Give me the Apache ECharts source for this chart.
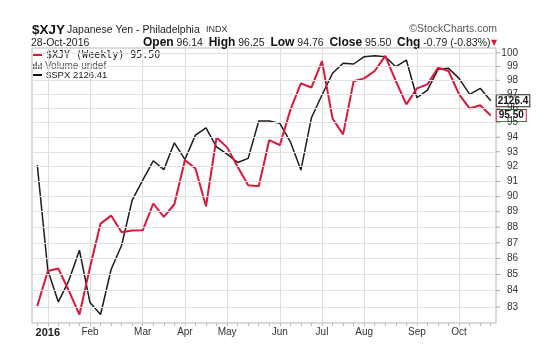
<!DOCTYPE html>
<html>
<head>
<meta charset="utf-8">
<title>$XJY Japanese Yen</title>
<script src="https://cdn.jsdelivr.net/npm/echarts@6/dist/echarts.min.js"></script>
<style>html,body{margin:0;padding:0;background:#fff;}</style>
</head>
<body>
<div id="main" style="width:550px;height:351px;"></div>
<script>
// weekly bars (week starting monday)
var weeks = ['2015-12-28','2016-01-04','2016-01-11','2016-01-18','2016-01-25',
  '2016-02-01','2016-02-08','2016-02-15','2016-02-22','2016-02-29',
  '2016-03-07','2016-03-14','2016-03-21','2016-03-28',
  '2016-04-04','2016-04-11','2016-04-18','2016-04-25',
  '2016-05-02','2016-05-09','2016-05-16','2016-05-23','2016-05-30',
  '2016-06-06','2016-06-13','2016-06-20','2016-06-27',
  '2016-07-04','2016-07-11','2016-07-18','2016-07-25',
  '2016-08-01','2016-08-08','2016-08-15','2016-08-22','2016-08-29',
  '2016-09-05','2016-09-12','2016-09-19','2016-09-26',
  '2016-10-03','2016-10-10','2016-10-17','2016-10-24'];

// $XJY weekly close
var xjy = [83.06, 85.22, 85.37, 83.98, 82.54,
  85.45, 88.23, 88.75, 87.67, 87.78,
  87.80, 89.54, 88.66, 89.49,
  92.43, 91.87, 89.36, 93.98,
  93.30, 91.98, 90.75, 90.68, 93.80,
  93.45, 95.90, 97.78, 97.49,
  99.39, 95.30, 94.19, 97.94,
  98.14, 98.67, 99.77, 97.95, 96.29,
  97.42, 97.71, 98.91, 98.67,
  97.00, 96.00, 96.23, 95.50];

// $SPX overlay
var spx = [2043.9, 1916.0, 1879.0, 1904.1, 1939.7,
  1878.2, 1864.5, 1916.8, 1945.6, 2000.4,
  2025.1, 2049.4, 2038.3, 2072.2,
  2051.1, 2082.0, 2091.4, 2067.1,
  2057.8, 2047.3, 2052.4, 2100.1, 2100.1,
  2097.1, 2073.5, 2037.7, 2104.4,
  2134.0, 2162.7, 2176.0, 2175.1,
  2184.9, 2186.2, 2184.9, 2171.5, 2180.4,
  2130.4, 2140.5, 2168.0, 2169.3,
  2156.0, 2134.9, 2142.8, 2126.41];

var yenTicks = [83, 84, 85, 86, 87, 88, 89, 90, 91, 92, 93, 94, 95, 96, 97, 98, 99, 100];
var monthNames = ['Jan','Feb','Mar','Apr','May','Jun','Jul','Aug','Sep','Oct','Nov','Dec'];

var RED = '#d9183b';
var FONT = 'Liberation Sans, Arial, sans-serif';

function firstWeekOfMonth(i) {
  return i > 0 && weeks[i].slice(5, 7) !== weeks[i - 1].slice(5, 7);
}

var myChart = echarts.init(document.getElementById('main'));

var option = {
  animation: false,
  backgroundColor: '#fff',
  grid: { left: 32, right: 54, top: 48, bottom: 28, show: true, borderColor: '#b5b5b5', borderWidth: 1 },
  xAxis: {
    type: 'category',
    data: weeks,
    boundaryGap: true,
    axisLine: { show: false },
    axisTick: { show: true, interval: 0, length: 3, alignWithLabel: true, lineStyle: { color: '#bbb' } },
    splitLine: {
      show: true,
      alignWithLabel: true,
      interval: function (i) { return firstWeekOfMonth(i); },
      lineStyle: { color: '#dedede', width: 1 }
    },
    axisLabel: {
      interval: function (i) { return firstWeekOfMonth(i); },
      margin: 4,
      fontSize: 10,
      fontFamily: FONT,
      color: '#333',
      formatter: function (v) {
        var m = +v.slice(5, 7);
        if (m === 1) return '{y|' + v.slice(0, 4) + '}';
        return monthNames[m - 1];
      },
      rich: { y: { fontSize: 11, fontWeight: 'bold', fontFamily: FONT, color: '#222' } }
    }
  },
  yAxis: [
    { type: 'log', logBase: 10, min: 82.03, max: 100.35, position: 'right',
      axisLine: { show: false }, axisTick: { show: false }, axisLabel: { show: false }, splitLine: { show: false } },
    { type: 'log', logBase: 10, min: 1854.8, max: 2196.6, show: false, splitLine: { show: false } }
  ],
  series: [
    {
      // gridlines + tick labels of the yen (log) scale
      type: 'line', data: [], yAxisIndex: 0, z: 1, silent: true,
      markLine: {
        silent: true, symbol: 'none', animation: false,
        lineStyle: { color: '#e2e2e2', width: 1, type: 'solid' },
        emphasis: { disabled: true },
        label: {
          position: 'end', distance: 0,
          formatter: function (p) { return '{t| }{n|' + p.value + '}'; },
          rich: {
            t: { width: 4, height: 1, lineHeight: 1, backgroundColor: '#aaa' },
            n: { width: 18, align: 'right', fontSize: 10, fontFamily: FONT, color: '#333' }
          }
        },
        data: yenTicks.map(function (v) { return { yAxis: v }; })
      }
    },
    {
      name: '$SPX', type: 'line', data: spx, yAxisIndex: 1, z: 2,
      showSymbol: false, symbol: 'none',
      lineStyle: { color: '#1c1c1c', width: 1.5 },
      endLabel: {
        show: true, distance: 6,
        formatter: function () { return spx[spx.length - 1].toFixed(1); },
        fontSize: 10, fontWeight: 'bold', fontFamily: FONT, color: '#111',
        backgroundColor: '#fff', borderColor: '#222', borderWidth: 1, padding: [1, 1, 0, 1]
      }
    },
    {
      name: '$XJY', type: 'line', data: xjy, yAxisIndex: 0, z: 3,
      showSymbol: false, symbol: 'none',
      lineStyle: { color: RED, width: 2 },
      endLabel: {
        show: true, distance: 6,
        formatter: function () { return xjy[xjy.length - 1].toFixed(2); },
        fontSize: 10, fontWeight: 'bold', fontFamily: FONT, color: '#111',
        backgroundColor: '#fff', borderColor: RED, borderWidth: 1, padding: [1, 2, 0, 2]
      }
    }
  ],
  graphic: [
    { type: 'text', x: 32, y: 30, style: { text: '$XJY', font: 'bold 13.5px ' + FONT, fill: '#111', verticalAlign: 'middle' } },
    { type: 'text', x: 67, y: 30, style: { text: 'Japanese Yen - Philadelphia', font: '10.5px ' + FONT, fill: '#222', verticalAlign: 'middle' } },
    { type: 'text', x: 206, y: 30, style: { text: 'INDX', font: '9px ' + FONT, fill: '#333', verticalAlign: 'middle' } },
    { type: 'text', x: 497, y: 29, style: { text: '\u00a9StockCharts.com', font: '10.5px ' + FONT, fill: '#555', align: 'right', verticalAlign: 'middle' } },
    { type: 'text', x: 31, y: 43, style: { text: '28-Oct-2016', font: '10.5px ' + FONT, fill: '#222', verticalAlign: 'middle' } },
    { type: 'text', x: 143, y: 43, style: {
        text: '{b|Open} 96.14  {b|High} 96.25  {b|Low} 94.76  {b|Close} 95.50  {b|Chg} -0.79 (-0.83%)',
        font: '10.5px ' + FONT, fill: '#222', verticalAlign: 'middle',
        rich: { b: { fontWeight: 'bold', fontSize: 12, fontFamily: FONT, fill: '#111' } } } },
    { type: 'text', x: 494, y: 43, style: { text: '\u25bc', font: '8px DejaVu Sans', fill: RED, align: 'center', verticalAlign: 'middle' } },
    // legend
    { type: 'line', shape: { x1: 33, y1: 55, x2: 42, y2: 55 }, style: { stroke: RED, lineWidth: 2 } },
    { type: 'text', x: 46, y: 55, style: { text: '$XJY (Weekly) 95.50', font: '10px DejaVu Sans Mono', fill: '#222', verticalAlign: 'middle' } },
    { type: 'rect', shape: { x: 33, y: 64, width: 1.5, height: 5 }, style: { fill: '#666' } },
    { type: 'rect', shape: { x: 35.5, y: 62, width: 1.5, height: 7 }, style: { fill: '#666' } },
    { type: 'rect', shape: { x: 38, y: 65, width: 1.5, height: 4 }, style: { fill: '#666' } },
    { type: 'rect', shape: { x: 40.5, y: 63, width: 1.5, height: 6 }, style: { fill: '#666' } },
    { type: 'text', x: 45, y: 66, style: { text: 'Volume undef', font: '10px ' + FONT, fill: '#555', verticalAlign: 'middle' } },
    { type: 'line', shape: { x1: 33, y1: 75, x2: 42, y2: 75 }, style: { stroke: '#111', lineWidth: 2 } },
    { type: 'text', x: 46, y: 75, style: { text: '$SPX 2126.41', font: '9.5px ' + FONT, fill: '#222', verticalAlign: 'middle' } }
  ]
};

myChart.setOption(option);
</script>
</body>
</html>
